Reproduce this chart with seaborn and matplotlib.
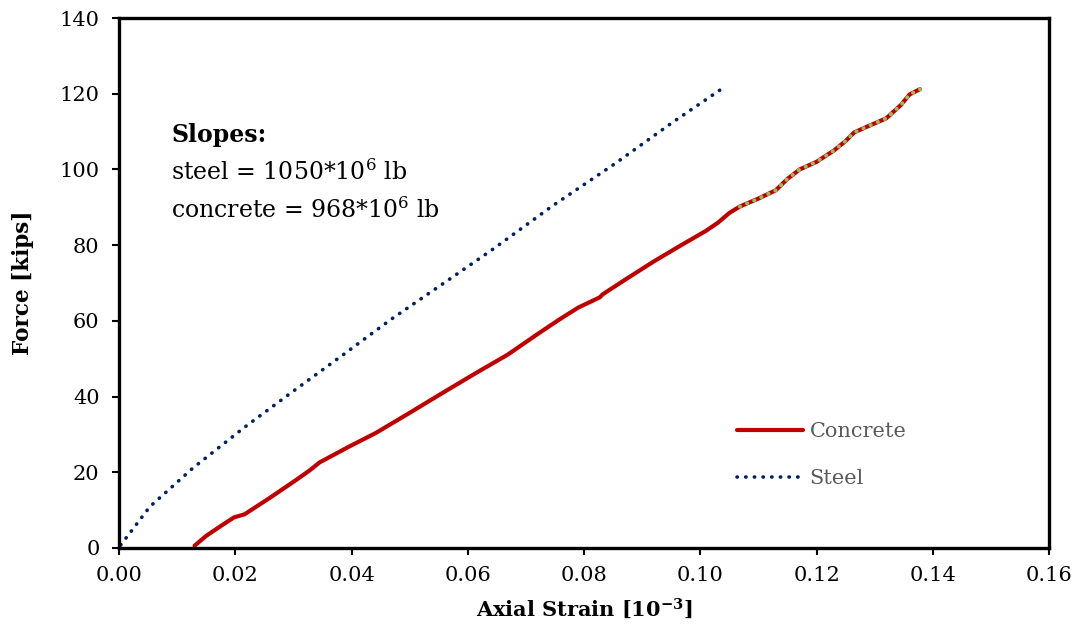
import numpy as np
import pandas as pd
import matplotlib
matplotlib.use('Agg')
import matplotlib.pyplot as plt
import seaborn as sns

# values (strain in 10^-3, force in kips)
steel_strain = [0.0003, 0.0053, 0.0127, 0.0216, 0.0296, 0.0387, 0.0468, 0.0560,
                0.0643, 0.0746, 0.0853, 0.0953, 0.1037]
steel_force = [0.8, 10.9, 21.1, 31.9, 41.0, 51.2, 60.4, 70.1, 78.9, 90.4, 101.5, 112.5, 121.3]

concrete_strain = [0.0130, 0.0150, 0.0175, 0.0198, 0.0216, 0.0259, 0.0305, 0.0328, 0.0345,
                   0.0396, 0.0442, 0.0500, 0.0557, 0.0615, 0.0669, 0.0720, 0.0758, 0.0790,
                   0.0827, 0.0832, 0.0870, 0.0919, 0.0965, 0.1010, 0.1031, 0.1050, 0.1068,
                   0.1100, 0.1130, 0.1150, 0.1171, 0.1200, 0.1230, 0.1250, 0.1265, 0.1290,
                   0.1320, 0.1345, 0.1360, 0.1378]
concrete_force = [0.6, 3.2, 5.8, 8.1, 8.9, 13.2, 18.0, 20.5, 22.6,
                  26.8, 30.4, 35.7, 41.0, 46.3, 51.1, 56.5, 60.4, 63.5,
                  66.2, 67.0, 70.8, 75.6, 79.8, 83.8, 86.0, 88.5, 90.2,
                  92.3, 94.5, 97.5, 100.0, 102.0, 105.0, 107.5, 109.8, 111.5,
                  113.5, 117.0, 119.8, 121.2]

# upper part of the concrete curve carries a dotted green overlay
overlay_start = 0.1068

steel = pd.DataFrame({'strain': steel_strain, 'force': steel_force})
concrete = pd.DataFrame({'strain': concrete_strain, 'force': concrete_force})
overlay = concrete[concrete['strain'] >= overlay_start]

sns.set_theme(style='white')
plt.rcParams['font.family'] = ['DejaVu Serif']
plt.rcParams['mathtext.fontset'] = 'dejavuserif'
plt.rcParams['text.color'] = 'black'
plt.rcParams['axes.labelcolor'] = 'black'

fig = plt.figure(figsize=(10.78, 6.28), dpi=100)
ax = fig.add_axes([0.1104, 0.1274, 0.8627, 0.8439])

sns.lineplot(data=concrete, x='strain', y='force', sort=False, ax=ax,
             color='#C00000', linewidth=3, label='Concrete')
sns.lineplot(data=steel, x='strain', y='force', sort=False, ax=ax,
             color='#002060', linewidth=2.6, label='Steel')
ax.lines[-1].set_dashes([0.1, 2.3])
ax.lines[-1].set_dash_capstyle('round')
sns.lineplot(data=overlay, x='strain', y='force', sort=False, ax=ax,
             color='#9BBB59', linewidth=2.8)
ax.lines[-1].set_dashes([0.1, 1.9])
ax.lines[-1].set_dash_capstyle('round')

ax.set_xlim(0, 0.16)
ax.set_ylim(0, 140)
xt = np.arange(0, 0.161, 0.02)
ax.set_xticks(xt)
ax.set_xticklabels([f'{v:.2f}' for v in xt])
ax.set_yticks(np.arange(0, 141, 20))

for s in ax.spines.values():
    s.set_color('black')
    s.set_linewidth(2.4)
ax.tick_params(axis='both', which='major', direction='out', length=5, width=1.5,
               color='black', labelsize=15, labelcolor='black')
ax.tick_params(axis='x', bottom=True, pad=8)
ax.tick_params(axis='y', left=True, pad=9)

ax.set_xlabel('Axial Strain [10$^{\\mathbf{-3}}$]', fontsize=15, fontweight='bold', labelpad=8)
ax.set_ylabel('Force [kips]', fontsize=15.5, fontweight='bold', labelpad=18)

ax.text(0.056, 0.779, 'Slopes:', transform=ax.transAxes, fontsize=17,
        fontweight='bold', va='center', ha='left')
ax.text(0.056, 0.709, 'steel = 1050*10$^{6}$ lb', transform=ax.transAxes,
        fontsize=17, va='center', ha='left')
ax.text(0.056, 0.638, 'concrete = 968*10$^{6}$ lb', transform=ax.transAxes,
        fontsize=17, va='center', ha='left')

leg = ax.legend(loc='upper left', bbox_to_anchor=(0.664, 0.238), frameon=False,
                fontsize=15, handlelength=3.2, handletextpad=0.3,
                labelspacing=1.35, borderpad=0, borderaxespad=0)
for t in leg.get_texts():
    t.set_color('#595959')

fig.savefig('out.png', dpi=100)
